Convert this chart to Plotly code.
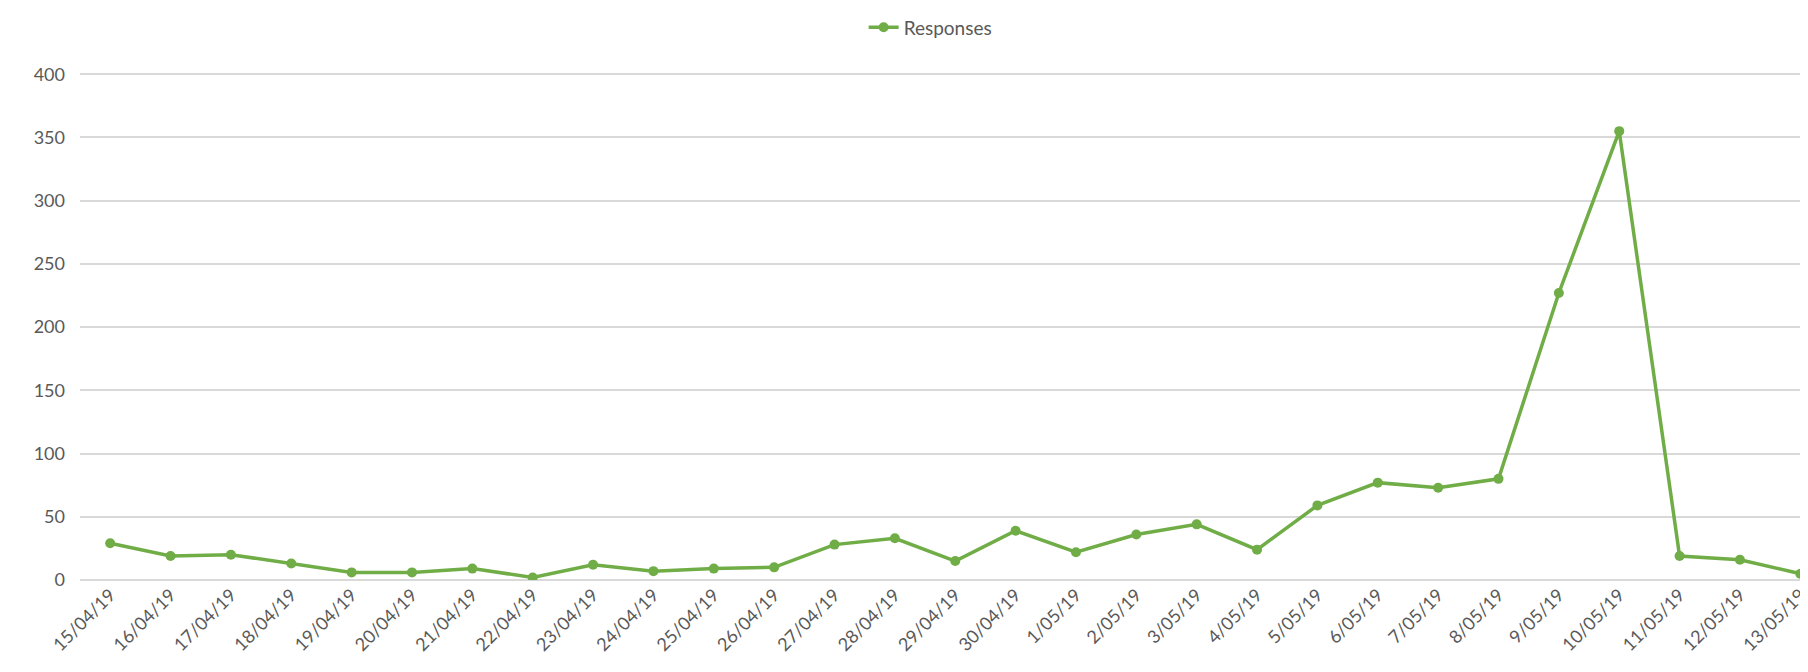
import plotly.graph_objects as go

dates = ["15/04/19", "16/04/19", "17/04/19", "18/04/19", "19/04/19", "20/04/19", "21/04/19",
         "22/04/19", "23/04/19", "24/04/19", "25/04/19", "26/04/19", "27/04/19", "28/04/19",
         "29/04/19", "30/04/19", "1/05/19", "2/05/19", "3/05/19", "4/05/19", "5/05/19",
         "6/05/19", "7/05/19", "8/05/19", "9/05/19", "10/05/19", "11/05/19", "12/05/19", "13/05/19"]
responses = [29, 19, 20, 13, 6, 6, 9, 2, 12, 7, 9, 10, 28, 33, 15, 39, 22, 36, 44, 24, 59,
             77, 73, 80, 227, 355, 19, 16, 5]
y_ticks = [0, 50, 100, 150, 200, 250, 300, 350, 400]

GREEN = "#70AD47"
TXT = "#595959"
FONT = "Lato"

fig = go.Figure()
fig.add_trace(go.Scatter(
    x=list(range(len(dates))), y=responses, name="Responses",
    mode="lines+markers",
    line=dict(color=GREEN, width=3.5),
    marker=dict(color=GREEN, size=10),
))

fig.update_layout(
    width=1808, height=672,
    margin=dict(l=72, r=0, t=65, b=100),
    paper_bgcolor="white", plot_bgcolor="white",
    font=dict(family=FONT, size=18, color=TXT),
    showlegend=True,
    legend=dict(orientation="h", x=0.49, xanchor="center", y=1.09, yanchor="middle",
                font=dict(family=FONT, size=19, color=TXT)),
    xaxis=dict(
        tickmode="array", tickvals=list(range(len(dates))), ticktext=dates,
        tickangle=-45, range=[-0.5, 28.26], showgrid=False, showline=False,
        zeroline=False, ticks="", automargin=False,
        tickfont=dict(family=FONT, size=18, color=TXT),
    ),
    yaxis=dict(
        range=[0, 401], tickvals=y_ticks, showgrid=True, gridcolor="#d9d9d9",
        gridwidth=1.5, zeroline=True, zerolinecolor="#d9d9d9", zerolinewidth=1.5,
        ticks="", automargin=False, tickfont=dict(family=FONT, size=18, color=TXT),
        ticklabelstandoff=14,
    ),
)

fig.write_html("out.html")
